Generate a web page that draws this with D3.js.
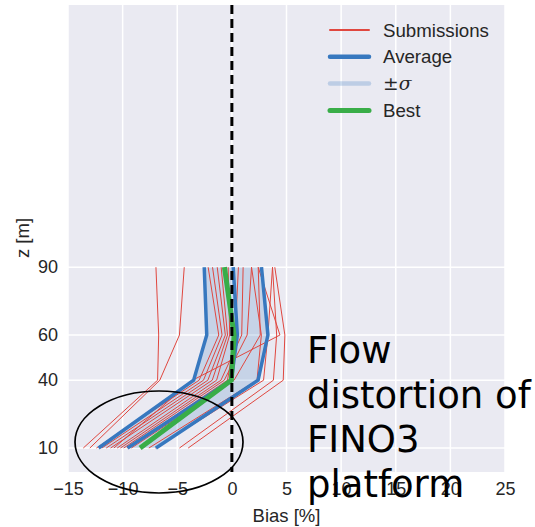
<!DOCTYPE html>
<html>
<head>
<meta charset="utf-8">
<title>Bias profile</title>
<script src="https://cdnjs.cloudflare.com/ajax/libs/d3/7.8.5/d3.min.js"></script>
<style>
    body { margin: 0; background: #fff; }
    svg text { font-family: "Liberation Sans", Arial, sans-serif; fill: #262626; }
</style>
</head>
<body>
<svg id="chart" width="535" height="527"></svg>
<script>
    // heights (m) and bias (%)
    var heights = [10, 40, 60, 90];
    var submissions = [
        [-13.6, -6.8, -6.7, -6.95],
        [-13.0, -6.6, -4.8, -4.36],
        [-12.4, -3.0, -1.2, -2.17],
        [-11.9, -2.6, -0.9, -1.77],
        [-11.5, -2.2, -0.6, -1.34],
        [-11.1, -1.8, -0.4, -0.98],
        [-10.8, -3.6, 4.4, 2.41],
        [-10.5, -1.4, -0.2, -0.34],
        [-10.2, -1.0, 0.9, 1.03],
        [-9.9, -0.7, 1.4, 1.8],
        [-9.6, -0.4, 0.3, 0.6],
        [-9.2, 0.2, 2.6, 2.41],
        [-7.6, 2.3, 2.7, 1.8],
        [-7.0, 2.9, 3.3, 3.72],
        [-4.8, 3.8, 4.1, 3.72],
        [-4.0, 4.7, 4.85, 3.93]
    ];
    var average = [-9.55, -0.05, 0.5, 0.12];
    var sigmaLow = [-12.2, -3.5, -2.3, -2.53];
    var sigmaHigh = [-6.95, 2.4, 3.3, 2.71];
    var best = [-8.4, -0.05, 0.2, -0.68];

    var xTicks = [-15, -10, -5, 0, 5, 10, 15, 20, 25];
    var yTicks = [10, 40, 60, 90];
    var legendLabels = ['Submissions', 'Average', '\u00b1\u03c3', 'Best'];
    var noteLines = ['Flow', 'distortion of', 'FINO3', 'platform'];

    var svg = d3.select('#chart');
    var plotLeft = 68, plotRight = 505, plotTop = 5, plotBottom = 472;

    var x = d3.scaleLinear().domain([-15, 25]).range([plotLeft, plotRight]);
    var y = d3.scaleLinear().domain([-0.6, 206]).range([plotBottom, plotTop]);

    var red = '#e0473f', blue = '#3778bf', green = '#39ad48';

    svg.append('rect')
        .attr('x', plotLeft).attr('y', plotTop)
        .attr('width', plotRight - plotLeft).attr('height', plotBottom - plotTop)
        .attr('fill', '#eaeaf2');

    // grid
    svg.append('g').selectAll('line').data(xTicks).enter().append('line')
        .attr('x1', d => x(d)).attr('x2', d => x(d))
        .attr('y1', plotTop).attr('y2', plotBottom)
        .attr('stroke', '#fff').attr('stroke-width', 1.5);
    svg.append('g').selectAll('line').data(yTicks).enter().append('line')
        .attr('x1', plotLeft).attr('x2', plotRight)
        .attr('y1', d => y(d)).attr('y2', d => y(d))
        .attr('stroke', '#fff').attr('stroke-width', 1.5);

    // axes, only labels
    var xAxis = svg.append('g')
        .attr('transform', 'translate(0,' + plotBottom + ')')
        .call(d3.axisBottom(x).tickValues(xTicks).tickSize(0).tickPadding(10)
            .tickFormat(d => d < 0 ? '\u2212' + Math.abs(d) : d));
    var yAxis = svg.append('g')
        .attr('transform', 'translate(' + (plotLeft - 1) + ',0)')
        .call(d3.axisLeft(y).tickValues(yTicks).tickSize(0).tickPadding(9));
    [xAxis, yAxis].forEach(function (ax) {
        ax.select('.domain').remove();
        ax.selectAll('text').attr('font-size', 18)
            .style('font-family', '"Liberation Sans", Arial, sans-serif').style('fill', '#262626');
    });

    svg.append('text').text('Bias [%]')
        .attr('x', x(5)).attr('y', 522)
        .attr('text-anchor', 'middle').attr('font-size', 18.5);
    svg.append('text').text('z [m]')
        .attr('transform', 'translate(29,238) rotate(-90)')
        .attr('text-anchor', 'middle').attr('font-size', 18.5);

    var line = d3.line().x(d => x(d[0])).y(d => y(d[1]));
    function pts(values) { return values.map((v, i) => [v, heights[i]]); }

    // sigma band
    var area = d3.area()
        .x0((d, i) => x(sigmaLow[i])).x1((d, i) => x(sigmaHigh[i]))
        .y(d => y(d));
    svg.append('path').datum(heights)
        .attr('d', area).attr('fill', blue).attr('fill-opacity', 0.2);

    svg.append('g').selectAll('path').data(submissions).enter().append('path')
        .attr('d', d => line(pts(d)))
        .attr('fill', 'none').attr('stroke', red).attr('stroke-width', 1);

    [sigmaLow, sigmaHigh, average].forEach(function (s) {
        svg.append('path').attr('d', line(pts(s)))
            .attr('fill', 'none').attr('stroke', blue).attr('stroke-width', 3.5);
    });
    svg.append('path').attr('d', line(pts(best)))
        .attr('fill', 'none').attr('stroke', green).attr('stroke-width', 5);

    // zero line
    svg.append('line')
        .attr('x1', x(0)).attr('x2', x(0)).attr('y1', plotTop).attr('y2', plotBottom)
        .attr('stroke', '#000').attr('stroke-width', 3).attr('stroke-dasharray', '9,5');

    // legend
    var legendStyles = [
        {c: red, w: 2, o: 1},
        {c: blue, w: 4.5, o: 1},
        {c: blue, w: 4.5, o: 0.25},
        {c: green, w: 5, o: 1}
    ];
    var lg = svg.append('g').selectAll('g').data(legendLabels).enter().append('g')
        .attr('transform', (d, i) => 'translate(0,' + (30 + i * 26.8) + ')');
    lg.append('line')
        .attr('x1', 330).attr('x2', 369).attr('y1', 0).attr('y2', 0)
        .attr('stroke', (d, i) => legendStyles[i].c)
        .attr('stroke-width', (d, i) => legendStyles[i].w)
        .attr('stroke-opacity', (d, i) => legendStyles[i].o)
        .attr('stroke-linecap', 'round');
    lg.append('text').text(d => d)
        .attr('x', 383).attr('y', 6.5).attr('font-size', 18.7)
        .style('font-family', (d, i) => i == 2 ? '"DejaVu Serif", serif' : null)
        .style('font-style', (d, i) => i == 2 ? 'italic' : null);

    // annotation
    svg.append('ellipse')
        .attr('cx', 159).attr('cy', 442).attr('rx', 84).attr('ry', 51)
        .attr('fill', 'none').attr('stroke', '#000').attr('stroke-width', 1.7);

    svg.append('g').selectAll('text').data(noteLines).enter().append('text')
        .text(d => d)
        .attr('x', 307).attr('y', (d, i) => 363 + i * 44.7)
        .attr('font-size', 37)
        .style('font-family', '"DejaVu Sans", sans-serif')
        .style('fill', '#000');
</script>
</body>
</html>
